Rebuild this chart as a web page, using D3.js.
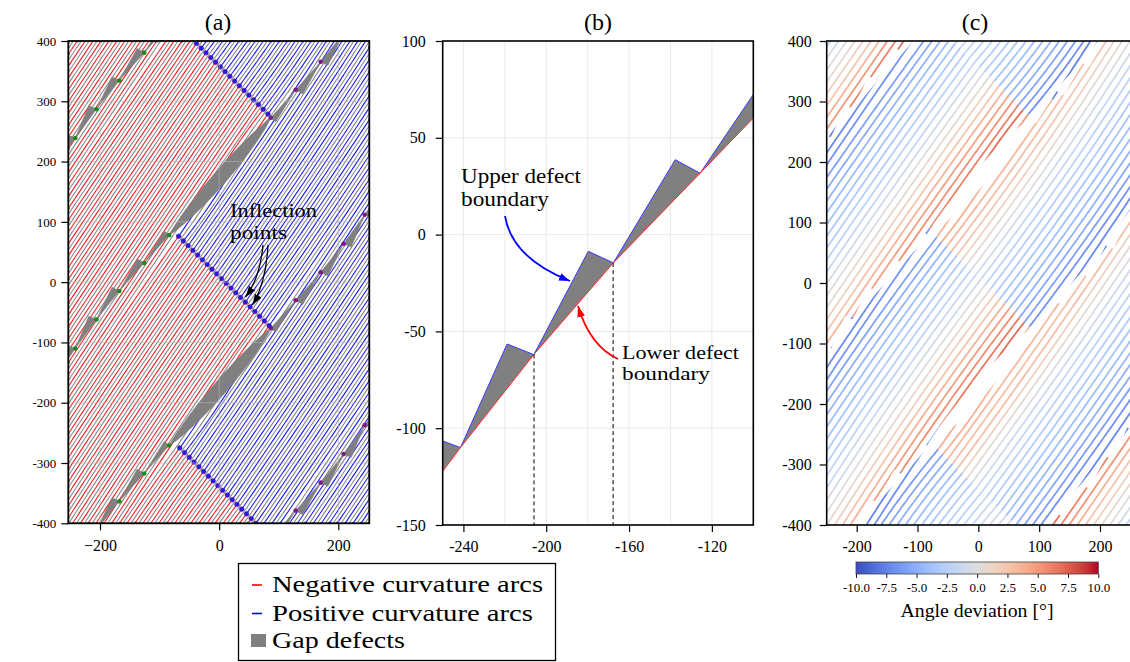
<!DOCTYPE html>
<html><head><meta charset="utf-8">
<script src="https://cdn.jsdelivr.net/npm/d3@7"></script>
<style>
html,body{margin:0;padding:0;background:#fff;}
svg{display:block;}
text{font-family:"Liberation Serif","DejaVu Serif",serif;fill:#000;}
</style></head>
<body>
<svg id="fig" width="1130" height="662" xmlns="http://www.w3.org/2000/svg"></svg>
<script>
// ================= DATA =================
const lineAngleDeg = 56;          // nominal direction of printed arcs
const lineSpacing = 11;           // distance between neighbouring arcs
const seamAngleDeg = 49.5;        // direction of the defect seams
const seamPeriod = 349;           // vertical repeat of the seams
const seamShifts = [-1, 0, 1, 2];
const seamCentre = [1.4, 175.4];  // centre of the large gap on the reference seam
// gap triangles on the lower-left part of a seam (as read in panel b)
const gapVertices = [[-275,-158],[-241.4,-110],[-206,-62],[-167.6,-14.6],[-125.7,31.7],[-84,78]];
const gapTops     = [[-254,-105],[-218.9,-56.5],[-179.7,-8.6],[-137.7,38.7],[-92,85]];
const bigGapWidth = [10, 13];     // bulge of the large gap: upper-left, lower-right
const inflectionStart = [-72, 80];
const dashedX = [-205.9, -167.7];
const curvature = 1/1100;
const sagA = 3.5, sagC = 8;       // maximum arc sagitta in panels (a) and (c)
// angle deviation next to a seam: [left-chain part, large-gap part, right-chain part]
const devAboveSeam = [7.5, 8.5, -8.5];
const devBelowSeam = [-8.5, 5.5, 7.5];
const devMidBand = -4.5, devDecayPos = 0.33, devDecayNeg = 0.22;

const ticksAx = [-200, 0, 200];
const ticksAy = [400,300,200,100,0,-100,-200,-300,-400];
const ticksBx = [-240,-200,-160,-120];
const gridBx  = [-240,-220,-200,-180,-160,-140,-120];
const ticksBy = [100,50,0,-50,-100,-150];
const ticksCx = [-200,-100,0,100,200];
const ticksCy = [400,300,200,100,0,-100,-200,-300,-400];
const cbarTicks = [-10,-7.5,-5,-2.5,0,2.5,5,7.5,10];
const coolwarm = ["#3b4cc0","#4d68d7","#6282ea","#779af7","#8db0fe","#a3c2ff","#b8d0f9","#ccd9ee","#dddddd",
                  "#ecd3c5","#f5c4ad","#f7b194","#f49a7b","#ec7f63","#de604d","#cb3e38","#b40426"];
const legendItems = ["Negative curvature arcs","Positive curvature arcs","Gap defects"];

// ================= GEOMETRY =================
const svg = d3.select("#fig");
const defs = svg.append("defs");
const beta = lineAngleDeg*Math.PI/180, sig = seamAngleDeg*Math.PI/180;
const ux=Math.cos(beta), uy=Math.sin(beta), nx=-uy, ny=ux;
const sx=Math.cos(sig), sy=Math.sin(sig);
function centreOf(s){ return [seamCentre[0], seamCentre[1]-seamPeriod*s]; }
function shiftP(p,s){ return [p[0], p[1]-seamPeriod*s]; }
function rotP(p,s){ const c=centreOf(s); return [2*c[0]-p[0], 2*c[1]-p[1]]; }
const lastV = gapVertices[gapVertices.length-1];

const zig=[];
for(let s=-2;s<=3;s++){ zig.push(rotP(shiftP(lastV,s),s)); zig.push(shiftP(inflectionStart,s)); }
function zigX(y){
  for(let i=0;i<zig.length-1;i++){
    const a=zig[i], b=zig[i+1];
    if(y<=a[1] && y>=b[1]) return a[0]+(b[0]-a[0])*(y-a[1])/(b[1]-a[1]);
  }
  return 0;
}
function isRed(x,y){ return x < zigX(y); }

function sigm(z){ return 1/(1+Math.exp(-z)); }
function sideAbove(u){
  const a=devAboveSeam[0]+(devAboveSeam[1]-devAboveSeam[0])*sigm((u+130)/15);
  return a+(devAboveSeam[2]-a)*sigm((u-130)/15);
}
function sideBelow(u){
  const a=devBelowSeam[0]+(devBelowSeam[1]-devBelowSeam[0])*sigm((u+130)/15);
  return a+(devBelowSeam[2]-a)*sigm((u-130)/15);
}
function bandInfo(x,y){
  const c0=centreOf(0);
  const w=-(x-c0[0])*sy+(y-c0[1])*sx;
  const f=-w/(seamPeriod*sx);
  const sTop=Math.floor(f), al=f-sTop;
  return {sTop, al};
}
function deviation(x,y){
  const {sTop,al}=bandInfo(x,y);
  const ct=centreOf(sTop), cb=centreOf(sTop+1);
  const uT=(x-ct[0])*sx+(y-ct[1])*sy, uB=(x-cb[0])*sx+(y-cb[1])*sy;
  const vT=sideBelow(uT), vB=sideAbove(uB);
  const wT=Math.exp(-al/(vT>0?devDecayPos:devDecayNeg)), wB=Math.exp(-(1-al)/(vB>0?devDecayPos:devDecayNeg));
  return devMidBand + (vT-devMidBand)*wT + (vB-devMidBand)*wB;
}

// gap polygons
const gapPolys=[], greenDots=[], purpleDots=[];
seamShifts.forEach(s=>{
  for(let i=0;i<gapTops.length;i++){
    const a=shiftP(gapVertices[i],s), t=shiftP(gapTops[i],s), b=shiftP(gapVertices[i+1],s);
    gapPolys.push({pts:[a,t,b], side:'L', s});
    gapPolys.push({pts:[rotP(a,s),rotP(t,s),rotP(b,s)], side:'R', s});
  }
  gapVertices.forEach(v=>{ const p=shiftP(v,s); greenDots.push(p); purpleDots.push(rotP(p,s)); });
  const L=shiftP(lastV,s), U=rotP(L,s);
  const dx=U[0]-L[0], dy=U[1]-L[1], len=Math.hypot(dx,dy), mx=-dy/len, my=dx/len;
  const up=[], lo=[];
  for(let i=0;i<=30;i++){
    const q=i/30, f=Math.pow(4*q*(1-q),0.8);
    up.push([L[0]+dx*q+mx*bigGapWidth[0]*f, L[1]+dy*q+my*bigGapWidth[0]*f]);
    lo.push([L[0]+dx*q-mx*bigGapWidth[1]*f, L[1]+dy*q-my*bigGapWidth[1]*f]);
  }
  gapPolys.push({pts: up.concat(lo.reverse()), side:'B', s});
});

function buildLines(frac, maxSag){
  const out=[];
  for(let k=-44;k<=44;k++){
    const off=(k+frac)*lineSpacing, ox=off*nx, oy=off*ny;
    const S=[];
    for(let t=-580;t<=580;t+=2){ const x=ox+t*ux, y=oy+t*uy; S.push({t,x,y,red:isRed(x,y)}); }
    const runs=[];
    let i=0;
    while(i<S.length){
      let j=i; while(j+1<S.length && S[j+1].red===S[i].red) j++;
      const t0=i===0?S[0].t:(S[i-1].t+S[i].t)/2, t1=j===S.length-1?S[j].t:(S[j].t+S[j+1].t)/2;
      const red=S[i].red, L=t1-t0, h=Math.min(maxSag, curvature*L*L/8)*(red?1:-1);
      const ts=[t0]; for(let q=i;q<=j;q++) ts.push(S[q].t); ts.push(t1);
      const pts=ts.map(t=>{ const q=(t-t0)/L, b=h*4*q*(1-q);
        return {t, bx:ox+t*ux, by:oy+t*uy, x:ox+t*ux+b*nx, y:oy+t*uy+b*ny, red}; });
      runs.push({red, pts, toBlue: (j<S.length-1 && red), endB:[ox+t1*ux, oy+t1*uy]});
      i=j+1;
    }
    out.push(runs);
  }
  return out;
}
const linesA = buildLines(0, sagA);
const grayA  = buildLines(0.5, sagA);
const linesC = buildLines(0, sagC);

// ================= SCALES =================
const xa=d3.scaleLinear().domain([-200,200]).range([100,338.3]);
const ya=d3.scaleLinear().domain([-400,400]).range([523.3,41]);
const xb=d3.scaleLinear().domain([-250,-100]).range([442.7,753.3]);
const yb=d3.scaleLinear().domain([-150,100]).range([525,41]);
const xc=d3.scaleLinear().domain([-200,200]).range([856.7,1100]);
const yc=d3.scaleLinear().domain([-400,400]).range([525,41]);
const FA={x0:68.3,x1:369.3,y0:41,y1:523.3};
const FB={x0:442.7,x1:753.3,y0:41,y1:525};
const FC={x0:826.7,x1:1132,y0:41,y1:525};
const colour=d3.scaleLinear().domain(d3.range(17).map(i=>-10+i*1.25)).range(coolwarm).clamp(true);

function clip(id,F){ defs.append("clipPath").attr("id",id).append("rect")
  .attr("x",F.x0).attr("y",F.y0).attr("width",F.x1-F.x0).attr("height",F.y1-F.y0); }
clip("clipA",FA); clip("clipB",FB); clip("clipC",FC);
function marker(id,color){
  defs.append("marker").attr("id",id).attr("viewBox","0 0 10 7").attr("refX",10).attr("refY",3.5)
    .attr("markerWidth",11).attr("markerHeight",7.7).attr("markerUnits","userSpaceOnUse").attr("orient","auto")
    .append("path").attr("d","M0,0 L10,3.5 L0,7 z").attr("fill",color);
}
marker("arK","#000"); marker("arB","#0000ff"); marker("arR","#ff0000");

function inBoxA(x,y){ const X=xa(x),Y=ya(y); return X>=FA.x0-0.5&&X<=FA.x1+0.5&&Y>=FA.y0-0.5&&Y<=FA.y1+0.5; }
function nearBox(x,y,m){ return x>=-250-m&&x<=250+m&&y>=-400-m&&y<=400+m; }

// ================= PANEL A =================
const lineA=d3.line().x(p=>xa(p.x)).y(p=>ya(p.y));
const gA=svg.append("g").attr("clip-path","url(#clipA)");
gA.append("rect").attr("x",FA.x0).attr("y",FA.y0).attr("width",FA.x1-FA.x0).attr("height",FA.y1-FA.y0).attr("fill","#fff");
let dGray="";
grayA.forEach(runs=>runs.forEach(r=>{ const p=r.pts.filter(q=>nearBox(q.x,q.y,12)); if(p.length>1) dGray+=lineA(p); }));
gA.append("path").attr("d",dGray).attr("fill","none").attr("stroke","#8a8a8a").attr("stroke-width",1.1);
let dRed="", dBlue="";
linesA.forEach(runs=>runs.forEach(r=>{ const p=r.pts.filter(q=>nearBox(q.x,q.y,12)); if(p.length>1){ if(r.red) dRed+=lineA(p); else dBlue+=lineA(p);} }));
gA.append("path").attr("d",dRed).attr("fill","none").attr("stroke","#ff1a1a").attr("stroke-width",1.1);
gA.append("path").attr("d",dBlue).attr("fill","none").attr("stroke","#1a1aff").attr("stroke-width",1.1);
gA.selectAll("path.gap").data(gapPolys).join("path").attr("class","gap")
  .attr("d",d=>"M"+d.pts.map(p=>xa(p[0])+","+ya(p[1])).join("L")+"Z").attr("fill","#808080").attr("stroke","#808080").attr("stroke-width",0.6);
const edgeStart=[], edgeEnd=[], inflDots=[];
linesA.forEach(runs=>{
  let first=null,last=null;
  runs.forEach(r=>{ r.pts.forEach(q=>{ if(inBoxA(q.x,q.y)){ if(!first) first=q; last=q; } });
    if(r.toBlue && inBoxA(r.endB[0],r.endB[1])) inflDots.push(r.endB); });
  if(first) edgeStart.push(first); if(last) edgeEnd.push(last);
});
gA.selectAll("circle.es").data(edgeStart).join("circle").attr("class","es")
  .attr("cx",d=>xa(d.x)).attr("cy",d=>ya(d.y)).attr("r",1.4).attr("fill",d=>d.red?"#1f8f1f":"#2222ee");
gA.selectAll("circle.ee").data(edgeEnd).join("circle").attr("class","ee")
  .attr("cx",d=>xa(d.x)).attr("cy",d=>ya(d.y)).attr("r",1.4).attr("fill","#7a1f9a");
gA.selectAll("circle.gv").data(greenDots).join("circle").attr("class","gv")
  .attr("cx",d=>xa(d[0])).attr("cy",d=>ya(d[1])).attr("r",2.3).attr("fill","#1a8a1a");
gA.selectAll("circle.pv").data(purpleDots).join("circle").attr("class","pv")
  .attr("cx",d=>xa(d[0])).attr("cy",d=>ya(d[1])).attr("r",2.3).attr("fill","#801a80");
gA.selectAll("circle.inf").data(inflDots).join("circle").attr("class","inf")
  .attr("cx",d=>xa(d[0])).attr("cy",d=>ya(d[1])).attr("r",2.4).attr("fill","#2a1ae0").attr("stroke","#5a189a").attr("stroke-width",0.5);
ticksAx.forEach(v=>gA.append("line").attr("x1",xa(v)).attr("x2",xa(v)).attr("y1",FA.y0).attr("y2",FA.y1).attr("stroke","#b4b4b4").attr("stroke-opacity",0.7).attr("stroke-width",0.9));
ticksAy.forEach(v=>gA.append("line").attr("y1",ya(v)).attr("y2",ya(v)).attr("x1",FA.x0).attr("x2",FA.x1).attr("stroke","#b4b4b4").attr("stroke-opacity",0.7).attr("stroke-width",0.9));
svg.append("rect").attr("x",FA.x0).attr("y",FA.y0).attr("width",FA.x1-FA.x0).attr("height",FA.y1-FA.y0).attr("fill","none").attr("stroke","#000").attr("stroke-width",1.8);

function styleAxis(g,size){ g.select(".domain").remove(); g.selectAll(".tick line").attr("stroke","#000").attr("stroke-width",1.2);
  g.selectAll(".tick text").attr("font-family","Liberation Serif, serif").attr("font-size",size).attr("fill","#000"); }
svg.append("g").attr("transform",`translate(0,${FA.y1})`)
  .call(d3.axisBottom(xa).tickValues(ticksAx).tickSize(7).tickPadding(9).tickFormat(d=>d<0?"\u2212"+Math.abs(d):d))
  .call(g=>styleAxis(g,16));
svg.append("g").attr("transform",`translate(${FA.x0},0)`)
  .call(d3.axisLeft(ya).tickValues(ticksAy).tickSize(7).tickPadding(5).tickFormat(d=>String(d)))
  .call(g=>styleAxis(g,13));
svg.append("text").attr("x",218).attr("y",30).attr("text-anchor","middle").attr("font-size",24).text("(a)");
svg.append("text").attr("x",230).attr("y",217).attr("font-size",19).attr("fill","#222").attr("textLength",87).attr("lengthAdjust","spacingAndGlyphs").text("Inflection");
svg.append("text").attr("x",230).attr("y",239).attr("font-size",19).attr("fill","#222").attr("textLength",57).attr("lengthAdjust","spacingAndGlyphs").text("points");
svg.append("path").attr("d","M263,245 Q260,278 245.5,297").attr("fill","none").attr("stroke","#000").attr("stroke-width",1.3).attr("marker-end","url(#arK)");
svg.append("path").attr("d","M268,245 Q266,283 252.5,305").attr("fill","none").attr("stroke","#000").attr("stroke-width",1.3).attr("marker-end","url(#arK)");

// ================= PANEL B =================
const gBgrid=svg.append("g");
gridBx.forEach(v=>gBgrid.append("line").attr("x1",xb(v)).attr("x2",xb(v)).attr("y1",FB.y0).attr("y2",FB.y1).attr("stroke","#e4e4e4").attr("stroke-width",0.8));
ticksBy.forEach(v=>gBgrid.append("line").attr("y1",yb(v)).attr("y2",yb(v)).attr("x1",FB.x0).attr("x2",FB.x1).attr("stroke","#e4e4e4").attr("stroke-width",0.8));
const gB=svg.append("g").attr("clip-path","url(#clipB)");
const chainB=gapPolys.filter(d=>d.side==='L'&&d.s===0);
gB.selectAll("path.tri").data(chainB).join("path").attr("class","tri")
  .attr("d",d=>"M"+d.pts.map(p=>xb(p[0])+","+yb(p[1])).join("L")+"Z").attr("fill","#808080");
gB.selectAll("path.up").data(chainB).join("path").attr("class","up")
  .attr("d",d=>"M"+d.pts.map(p=>xb(p[0])+","+yb(p[1])).join("L")).attr("fill","none").attr("stroke","#3a3aff").attr("stroke-width",1);
gB.append("path").attr("d",d3.line().x(p=>xb(p[0])).y(p=>yb(p[1]))(gapVertices)).attr("fill","none").attr("stroke","#ff2a2a").attr("stroke-width",1);
function vertexY(x){ for(let i=0;i<gapVertices.length-1;i++){ const a=gapVertices[i],b=gapVertices[i+1]; if(x>=a[0]&&x<=b[0]) return a[1]+(b[1]-a[1])*(x-a[0])/(b[0]-a[0]); } return 0; }
dashedX.forEach(v=>gB.append("line").attr("x1",xb(v)).attr("x2",xb(v)).attr("y1",yb(vertexY(v))).attr("y2",FB.y1).attr("stroke","#000").attr("stroke-width",1).attr("stroke-dasharray","4,3"));
svg.append("rect").attr("x",FB.x0).attr("y",FB.y0).attr("width",FB.x1-FB.x0).attr("height",FB.y1-FB.y0).attr("fill","none").attr("stroke","#000").attr("stroke-width",1.6);
svg.append("g").attr("transform",`translate(0,${FB.y1})`)
  .call(d3.axisBottom(xb).tickValues(ticksBx).tickSize(7).tickPadding(9).tickFormat(d=>String(d)))
  .call(g=>styleAxis(g,16));
svg.append("g").attr("transform",`translate(${FB.x0},0)`)
  .call(d3.axisLeft(yb).tickValues(ticksBy).tickSize(7).tickPadding(10).tickFormat(d=>String(d)))
  .call(g=>styleAxis(g,16));
svg.append("text").attr("x",598).attr("y",30).attr("text-anchor","middle").attr("font-size",24).text("(b)");
svg.append("text").attr("x",461).attr("y",183).attr("font-size",20).attr("fill","#1f1fff").attr("textLength",120).attr("lengthAdjust","spacingAndGlyphs").text("Upper defect");
svg.append("text").attr("x",461).attr("y",206).attr("font-size",20).attr("fill","#1f1fff").attr("textLength",88).attr("lengthAdjust","spacingAndGlyphs").text("boundary");
svg.append("path").attr("d","M505,216 Q512,258 570,281").attr("fill","none").attr("stroke","#0000ff").attr("stroke-width",1.8).attr("marker-end","url(#arB)");
svg.append("text").attr("x",622).attr("y",359).attr("font-size",18).attr("fill","#ff1a1a").attr("textLength",117).attr("lengthAdjust","spacingAndGlyphs").text("Lower defect");
svg.append("text").attr("x",622).attr("y",380).attr("font-size",18).attr("fill","#ff1a1a").attr("textLength",88).attr("lengthAdjust","spacingAndGlyphs").text("boundary");
svg.append("path").attr("d","M618,359 Q590,346 578,306").attr("fill","none").attr("stroke","#ff0000").attr("stroke-width",1.8).attr("marker-end","url(#arR)");

// ================= PANEL C =================
const lineC=d3.line().x(p=>xc(p.x)).y(p=>yc(p.y));
const gC=svg.append("g").attr("clip-path","url(#clipC)");
const piecesC=[];
linesC.forEach(runs=>runs.forEach(r=>{
  let cur=[], key=null;
  r.pts.forEach(q=>{
    const kk=bandInfo(q.bx,q.by).sTop;
    if(key!==null && kk!==key){ piecesC.push(cur); cur=[cur[cur.length-1]]; }
    key=kk; cur.push(q);
  });
  if(cur.length>1) piecesC.push(cur);
}));
piecesC.forEach(p=>{
  const vis=p.filter(q=>nearBox(q.x,q.y,10)); if(vis.length<2) return;
  const m=vis[Math.floor(vis.length/2)];
  gC.append("path").attr("d",lineC(vis)).attr("fill","none").attr("stroke",colour(deviation(m.bx,m.by))).attr("stroke-width",1.8);
});
gC.selectAll("path.gapc").data(gapPolys).join("path").attr("class","gapc")
  .attr("d",d=>"M"+d.pts.map(p=>xc(p[0])+","+yc(p[1])).join("L")+"Z").attr("fill","#fff").attr("stroke","#fff").attr("stroke-width",1.5);
svg.append("rect").attr("x",FC.x0).attr("y",FC.y0).attr("width",FC.x1-FC.x0).attr("height",FC.y1-FC.y0).attr("fill","none").attr("stroke","#000").attr("stroke-width",1.6);
svg.append("g").attr("transform",`translate(0,${FC.y1})`)
  .call(d3.axisBottom(xc).tickValues(ticksCx).tickSize(7).tickPadding(9).tickFormat(d=>String(d)))
  .call(g=>styleAxis(g,16));
svg.append("g").attr("transform",`translate(${FC.x0},0)`)
  .call(d3.axisLeft(yc).tickValues(ticksCy).tickSize(7).tickPadding(8).tickFormat(d=>String(d)))
  .call(g=>styleAxis(g,16));
svg.append("text").attr("x",975).attr("y",30).attr("text-anchor","middle").attr("font-size",24).text("(c)");

const cbX=d3.scaleLinear().domain([-10,10]).range([856,1098.3]);
const grad=defs.append("linearGradient").attr("id","cw").attr("x1","0%").attr("x2","100%");
coolwarm.forEach((c,i)=>grad.append("stop").attr("offset",(i/(coolwarm.length-1)*100)+"%").attr("stop-color",c));
svg.append("rect").attr("x",856).attr("y",562).attr("width",242.3).attr("height",12).attr("fill","url(#cw)").attr("stroke","#444").attr("stroke-width",0.8);
svg.append("g").attr("transform","translate(0,574)")
  .call(d3.axisBottom(cbX).tickValues(cbarTicks).tickSize(4).tickPadding(5).tickFormat(d=>d.toFixed(1)))
  .call(g=>styleAxis(g,13)).call(g=>g.selectAll(".tick line").attr("stroke-width",0.9));
svg.append("text").attr("x",977).attr("y",617).attr("text-anchor","middle").attr("font-size",18).attr("textLength",153).attr("lengthAdjust","spacingAndGlyphs").text("Angle deviation [°]");

// ================= LEGEND =================
const lg=svg.append("g");
lg.append("rect").attr("x",238.5).attr("y",563.5).attr("width",317).attr("height",97).attr("fill","#fff").attr("stroke","#000").attr("stroke-width",1.3);
const lgW=[271,261,133];
const lgY=[592,621,648];
lg.append("line").attr("x1",252).attr("x2",262).attr("y1",585).attr("y2",585).attr("stroke","#ff0000").attr("stroke-width",1.6);
lg.append("line").attr("x1",252).attr("x2",262).attr("y1",613.5).attr("y2",613.5).attr("stroke","#0000ff").attr("stroke-width",1.6);
lg.append("rect").attr("x",251).attr("y",634).attr("width",15).attr("height",13).attr("fill","#808080");
legendItems.forEach((t,i)=>lg.append("text").attr("x",272).attr("y",lgY[i]).attr("font-size",24).attr("textLength",lgW[i]).attr("lengthAdjust","spacingAndGlyphs").text(t));
</script>
</body></html>
